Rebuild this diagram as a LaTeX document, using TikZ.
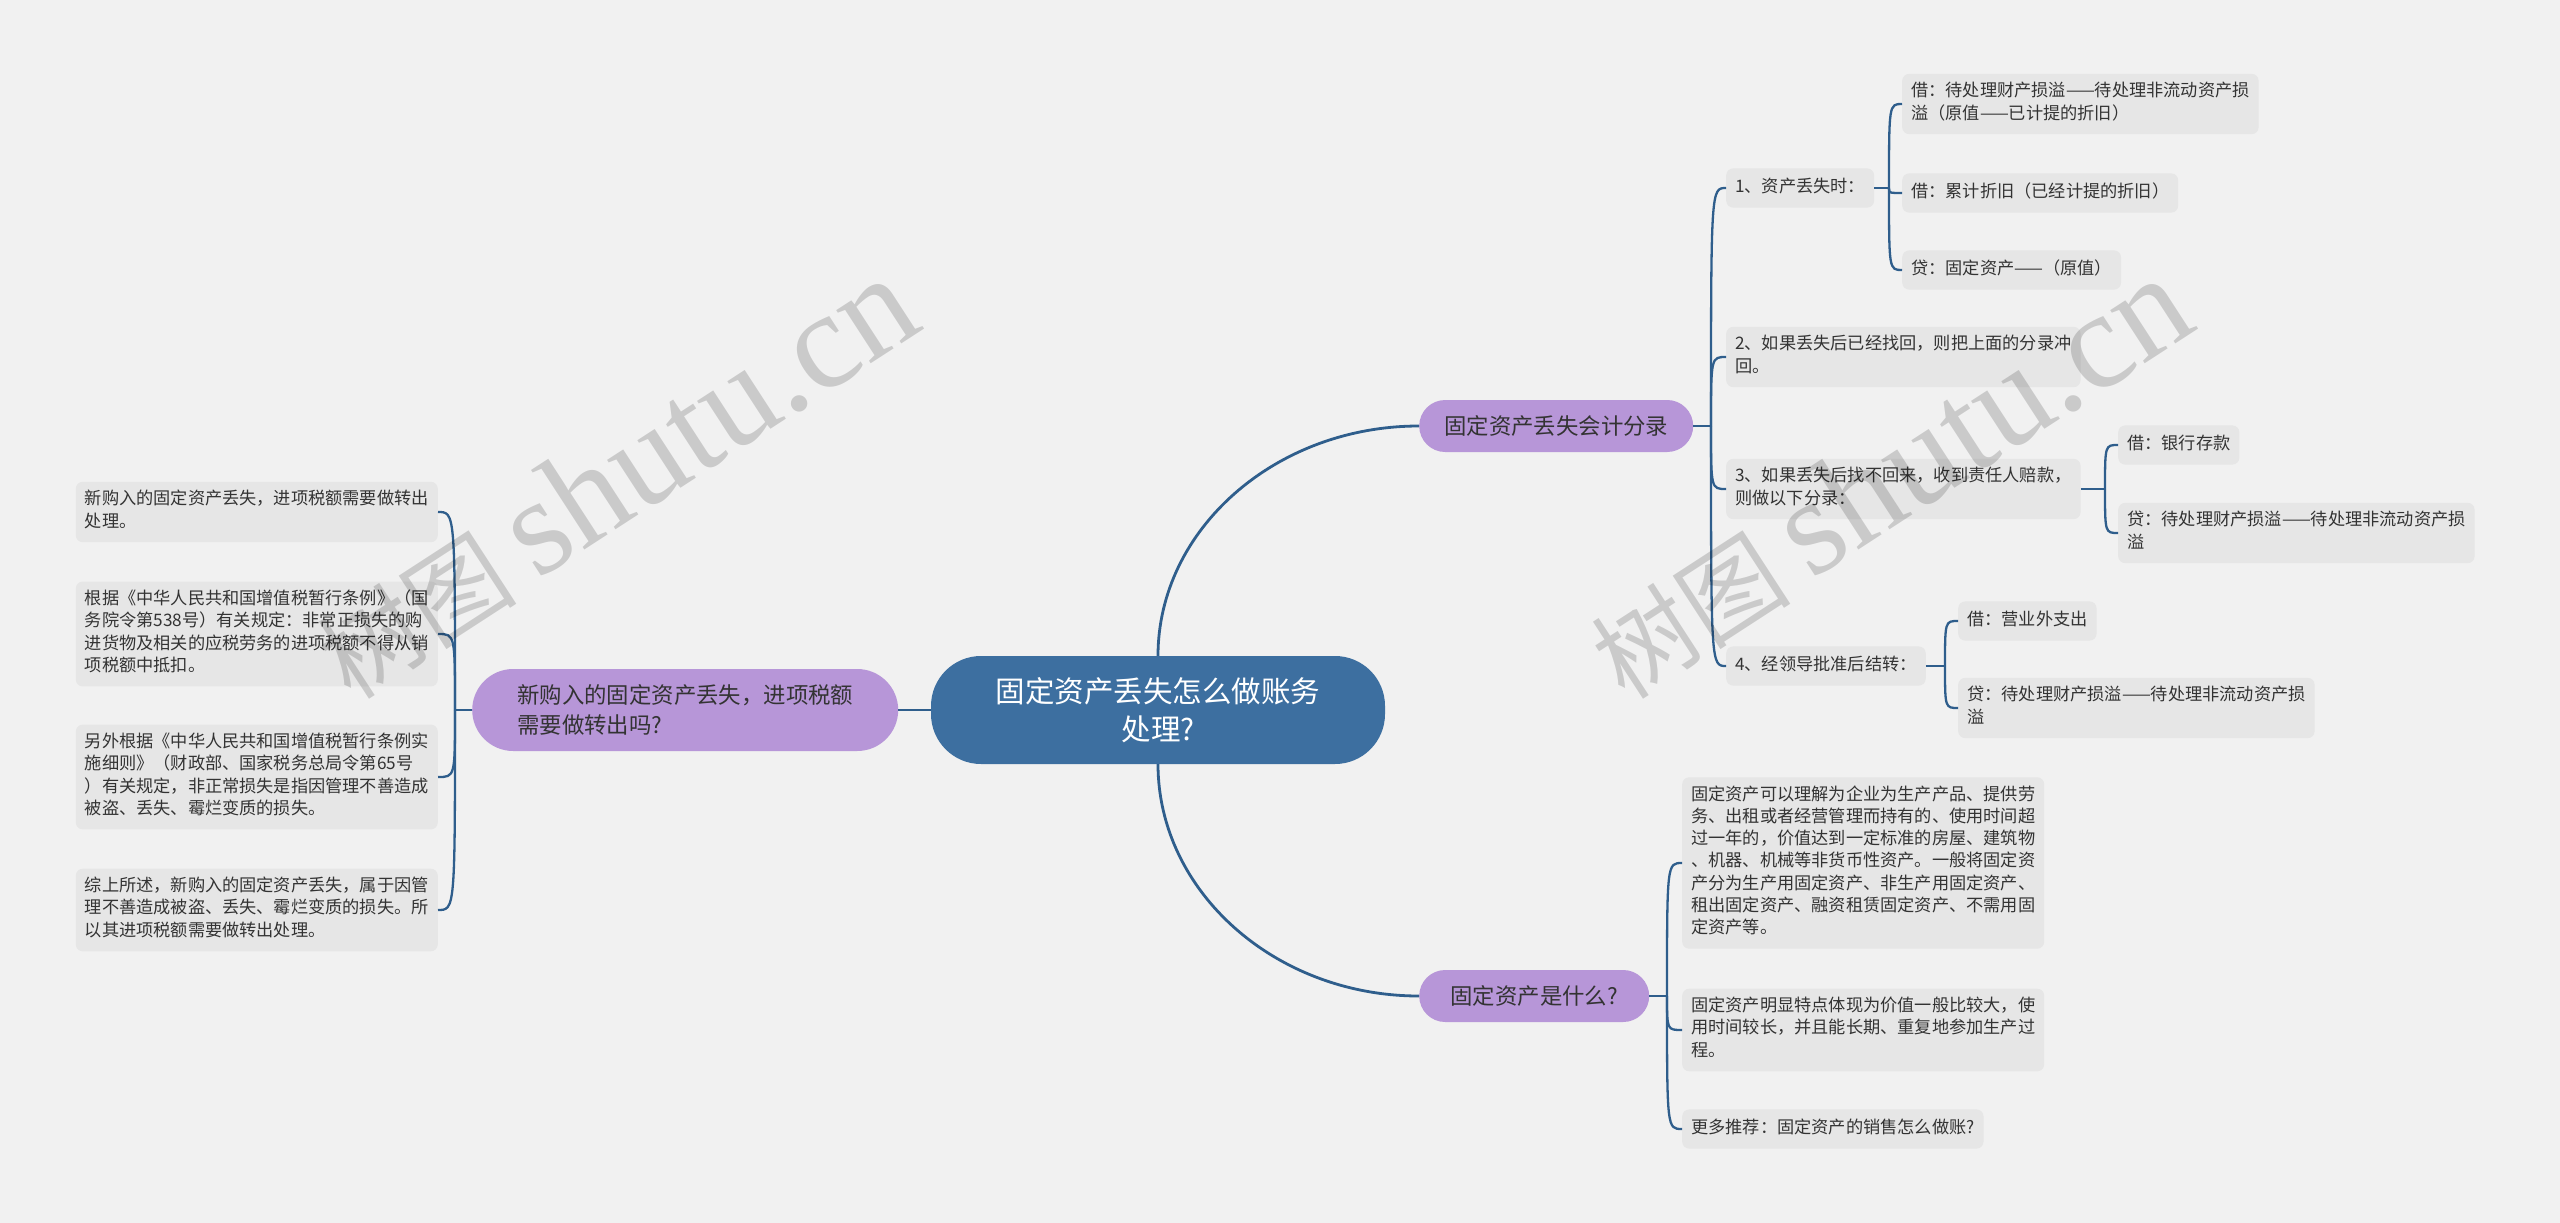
\documentclass[tikz,border=0pt]{standalone}
\usepackage{fontspec}
\setmainfont{Noto Sans CJK SC}
\newfontfamily\wmfont{Liberation Serif}
\usetikzlibrary{calc}
\definecolor{bgc}{HTML}{F1F1F1}
\definecolor{rootc}{HTML}{3D6FA0}
\definecolor{branchc}{HTML}{B796D8}
\definecolor{leafc}{HTML}{E6E6E6}
\definecolor{linkc}{HTML}{2F5E8C}
\definecolor{txtc}{HTML}{333333}
\tikzset{
 root/.style={fill=rootc,text=white,rounded corners=50pt,minimum width=454pt,minimum height=108pt,align=center,inner sep=0pt,font=\fontsize{29.5}{37.5}\selectfont},
 branch/.style={fill=branchc,text=txtc,rounded corners=26pt,minimum height=52pt,inner sep=0pt,align=left,font=\fontsize{22.4}{29.4}\selectfont},
 leaf/.style={fill=leafc,text=txtc,rounded corners=7pt,inner xsep=9pt,inner ysep=8.5pt,align=left,font=\fontsize{17.2}{22.2}\selectfont,execute at begin node=\strut,execute at end node=\strut},
 link/.style={draw=linkc,line width=2.3pt},
 trunk/.style={draw=linkc,line width=2.8pt},
 wmark/.style={text=black,text opacity=0.16,rotate=33,anchor=base west,inner sep=0pt}
}
\begin{document}
\begin{tikzpicture}[x=1pt,y=-1pt]
 \fill[bgc] (0,0) rectangle (2560,1223);
 \useasboundingbox (0,0) rectangle (2560,1223);
 \node[root] (root) at (1158,710) {固定资产丢失怎么做账务\\处理?};
 \node[branch,anchor=west,minimum width=274pt] (acct) at (1419,426) {固定资产丢失会计分录};
 \node[branch,anchor=west,minimum width=230pt] (what) at (1419,996) {固定资产是什么?};
 \node[branch,anchor=west,minimum width=426pt,minimum height=82pt,rounded corners=41pt] (vat) at (472,710) {新购入的固定资产丢失，进项税额\\需要做转出吗?};

 \node[leaf,anchor=west] (a1) at (1726,188) {1、资产丢失时：};
 \node[leaf,anchor=west] (a2) at (1726,357) {2、如果丢失后已经找回，则把上面的分录冲\\回。};
 \node[leaf,anchor=west] (a3) at (1726,489) {3、如果丢失后找不回来，收到责任人赔款，\\则做以下分录：};
 \node[leaf,anchor=west] (a4) at (1726,666) {4、经领导批准后结转：};
 \node[leaf,anchor=west] (a11) at (1902,104) {借：待处理财产损溢——待处理非流动资产损\\溢（原值——已计提的折旧）};
 \node[leaf,anchor=west] (a12) at (1902,193) {借：累计折旧（已经计提的折旧）};
 \node[leaf,anchor=west] (a13) at (1902,270) {贷：固定资产——（原值）};
 \node[leaf,anchor=west] (a31) at (2118,445) {借：银行存款};
 \node[leaf,anchor=west] (a32) at (2118,533) {贷：待处理财产损溢——待处理非流动资产损\\溢};
 \node[leaf,anchor=west] (a41) at (1958,621) {借：营业外支出};
 \node[leaf,anchor=west] (a42) at (1958,708) {贷：待处理财产损溢——待处理非流动资产损\\溢};

 \node[leaf,anchor=west] (w1) at (1682,863) {固定资产可以理解为企业为生产产品、提供劳\\务、出租或者经营管理而持有的、使用时间超\\过一年的，价值达到一定标准的房屋、建筑物\\、机器、机械等非货币性资产。一般将固定资\\产分为生产用固定资产、非生产用固定资产、\\租出固定资产、融资租赁固定资产、不需用固\\定资产等。};
 \node[leaf,anchor=west] (w2) at (1682,1030) {固定资产明显特点体现为价值一般比较大，使\\用时间较长，并且能长期、重复地参加生产过\\程。};
 \node[leaf,anchor=west] (w3) at (1682,1129) {更多推荐：固定资产的销售怎么做账?};

 \node[leaf,anchor=east] (v1) at (438,512) {新购入的固定资产丢失，进项税额需要做转出\\处理。};
 \node[leaf,anchor=east] (v2) at (438,634) {根据《中华人民共和国增值税暂行条例》（国\\务院令第538号）有关规定：非常正损失的购\\进货物及相关的应税劳务的进项税额不得从销\\项税额中抵扣。};
 \node[leaf,anchor=east] (v3) at (438,777) {另外根据《中华人民共和国增值税暂行条例实\\施细则》（财政部、国家税务总局令第65号\\）有关规定，非正常损失是指因管理不善造成\\被盗、丢失、霉烂变质的损失。};
 \node[leaf,anchor=east] (v4) at (438,910) {综上所述，新购入的固定资产丢失，属于因管\\理不善造成被盗、丢失、霉烂变质的损失。所\\以其进项税额需要做转出处理。};

 \draw[trunk] (root.north) .. controls ($(root.north)!0.55!(root.north |- acct.west)$) and ($(acct.west)!0.55!(root.north |- acct.west)$) .. (acct.west);
 \draw[trunk] (root.south) .. controls ($(root.south)!0.55!(root.south |- what.west)$) and ($(what.west)!0.55!(root.south |- what.west)$) .. (what.west);
 \draw[trunk] (root.west) -- (vat.east);

 \path (acct.east -| a1.west) ++(-15,0) coordinate (acct-s);
 \path (what.east -| w1.west) ++(-15,0) coordinate (what-s);
 \path (a1.east -| a11.west) ++(-13,0) coordinate (a1-s);
 \path (a3.east -| a31.west) ++(-13,0) coordinate (a3-s);
 \path (a4.east -| a41.west) ++(-13,0) coordinate (a4-s);
 \path (vat.west -| v1.east) ++(17,0) coordinate (vat-s);
 \foreach \p in {acct,what,a1,a3,a4} \draw[link] (\p.east) -- (\p-s);
 \draw[link] (vat.west) -- (vat-s);
 \foreach \p/\c in {acct/a1,acct/a2,acct/a3,acct/a4,a1/a11,a1/a12,a1/a13,a3/a31,a3/a32,a4/a41,a4/a42,what/w1,what/w2,what/w3}
  \draw[link] (\p-s) .. controls (\p-s |- \c.west) and (\p-s |- \c.west) .. (\c.west);
 \foreach \c in {v1,v2,v3,v4}
  \draw[link] (vat-s) .. controls (vat-s |- \c.east) and (vat-s |- \c.east) .. (\c.east);

 \node[wmark] (wm1) at (351,702) {{\fontsize{100}{100}\selectfont 树图}\hspace{22pt}{\wmfont\fontsize{138}{138}\selectfont shutu.cn}};
 \node[wmark] (wm2) at (1625,702) {{\fontsize{100}{100}\selectfont 树图}\hspace{22pt}{\wmfont\fontsize{138}{138}\selectfont shutu.cn}};
\end{tikzpicture}
\end{document}
